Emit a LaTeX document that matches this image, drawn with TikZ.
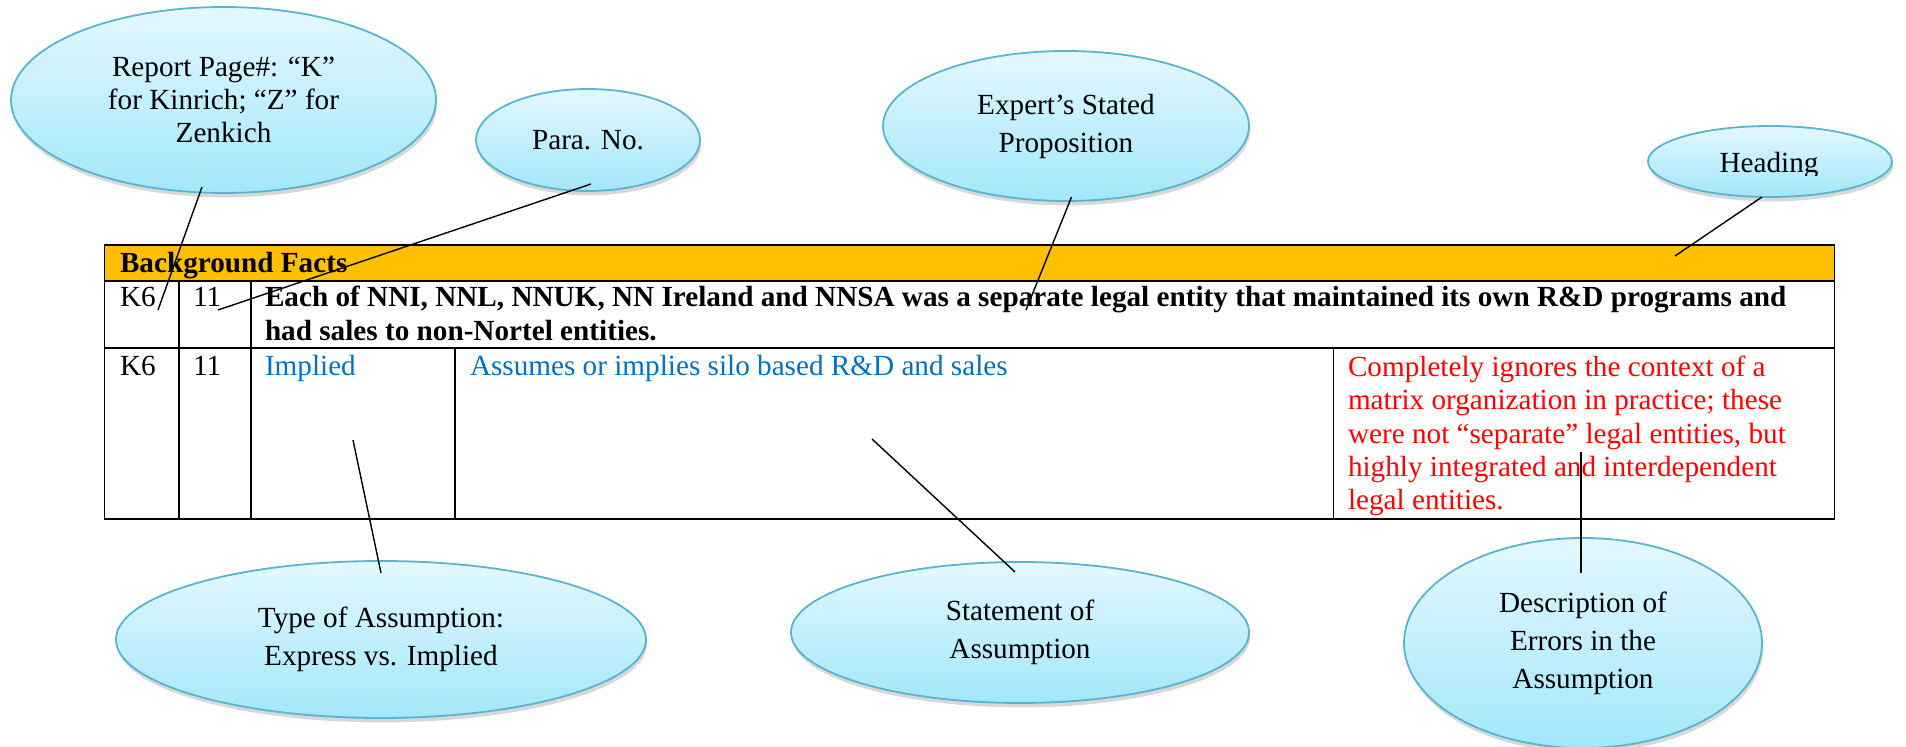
\documentclass[tikz,border=0pt]{standalone}
\usepackage{fontspec}
\setmainfont{Liberation Serif}
\usetikzlibrary{shapes.geometric,shadows}
\definecolor{gold}{HTML}{FFC000}
\definecolor{wblue}{HTML}{0070C0}
\definecolor{wred}{HTML}{FF0000}
\definecolor{bubtop}{HTML}{E4F8FE}
\definecolor{bubbot}{HTML}{A2E7FB}
\definecolor{bubline}{HTML}{5AB4CE}
\begin{document}
\begin{tikzpicture}[x=0.5pt,y=-0.5pt,
  bubble/.style={ellipse, draw=bubline, line width=0.9pt, top color=bubtop, bottom color=bubbot,
    inner sep=0pt, outer sep=0pt, align=center, font=\fontsize{14.6}{19}\selectfont,
    drop shadow={shadow xshift=0.6pt, shadow yshift=-2.2pt, opacity=0.22, fill=black!70}},
  cell/.style={anchor=base west, inner sep=0pt, outer sep=0pt, font=\fontsize{14.6}{16.65}\selectfont},
  bcell/.style={cell, font=\fontsize{14.6}{16.65}\selectfont\bfseries},
  grid/.style={line width=0.85pt, black},
  conn/.style={line width=0.7pt, black}]
\useasboundingbox (0,0) rectangle (1906,747);
% ---------- table ----------
\fill[gold] (104.5,245) rectangle (1834.5,280.7);
\draw[grid] (104.5,245) rectangle (1834.5,518.7);
\draw[grid] (104.5,280.7) -- (1834.5,280.7);
\draw[grid] (104.5,348.3) -- (1834.5,348.3);
\draw[grid] (179,280.7) -- (179,518.7);
\draw[grid] (251,280.7) -- (251,518.7);
\draw[grid] (455,348.3) -- (455,518.7);
\draw[grid] (1333.6,348.3) -- (1333.6,518.7);
\node[bcell] (hdr) at (120,272.7) {Background Facts};
\node[cell] (r1a) at (120,307) {K6};
\node[cell] (r1b) at (193,307) {11};
\node[bcell] (r1c) at (265,307) {Each of NNI, NNL, NNUK, NN Ireland and NNSA was a separate legal entity that maintained its own R\&D programs and};
\node[bcell] (r1d) at (265,341) {had sales to non-Nortel entities.};
\node[cell] (r2a) at (120,376) {K6};
\node[cell] (r2b) at (193,376) {11};
\node[cell, text=wblue] (r2c) at (265,376) {Implied};
\node[cell, text=wblue] (r2d) at (470,376) {Assumes or implies silo based R\&D and sales};
\node[cell, text=wred] (e1) at (1348,376.7) {Completely ignores the context of a};
\node[cell, text=wred] (e2) at (1348,410) {matrix organization in practice; these};
\node[cell, text=wred] (e3) at (1348,443.3) {were not “separate” legal entities, but};
\node[cell, text=wred] (e4) at (1348,476.7) {highly integrated and interdependent};
\node[cell, text=wred] (e5) at (1348,510) {legal entities.};
% ---------- bubbles ----------
\node[bubble, minimum width=212.5pt, minimum height=93pt, font=\fontsize{14.6}{16.5}\selectfont] (rp) at (223.5,100) {Report Page\#: “K”\\for Kinrich; “Z” for\\Zenkich};
\node[bubble, minimum width=112pt, minimum height=51pt] (para) at (588,140) {Para. No.};
\node[bubble, minimum width=183pt, minimum height=75pt] (exp) at (1066,126) {Expert’s Stated\\Proposition};
\node[bubble, minimum width=122pt, minimum height=35.5pt] (head) at (1770,161.5) {};
\begin{scope}
  \clip (1640,100) rectangle (1906,175.5);
  \node[cell, anchor=base, font=\fontsize{14.6}{16.65}\selectfont] (headtxt) at (1769,173) {Heading};
\end{scope}
\node[bubble, minimum width=265pt, minimum height=78.5pt] (type) at (381,639.5) {Type of Assumption:\\Express vs. Implied};
\node[bubble, minimum width=229pt, minimum height=70.5pt] (stmt) at (1020,632.5) {Statement of\\Assumption};
\node[bubble, minimum width=179pt, minimum height=105pt] (desc) at (1583,643) {Description of\\Errors in the\\Assumption};
% ---------- connector ends ----------
\coordinate (rpA) at (202,187);   \coordinate (rpB) at (158,310);
\coordinate (paA) at (591,184);   \coordinate (paB) at (218,310);
\coordinate (exA) at (1071.5,197); \coordinate (exB) at (1026,310);
\coordinate (hdA) at (1762,197);  \coordinate (hdB) at (1675,256);
\coordinate (tyA) at (381,573);   \coordinate (tyB) at (353,440);
\coordinate (stA) at (1015,572);  \coordinate (stB) at (872,439);
\coordinate (deA) at (1581,573);  \coordinate (deB) at (1581,452);
\draw[conn] (rpA) -- (rpB);
\draw[conn] (paA) -- (paB);
\draw[conn] (exA) -- (exB);
\draw[conn] (hdA) -- (hdB);
\draw[conn] (tyA) -- (tyB);
\draw[conn] (stA) -- (stB);
\draw[conn] (deA) -- (deB);
\end{tikzpicture}
\end{document}
